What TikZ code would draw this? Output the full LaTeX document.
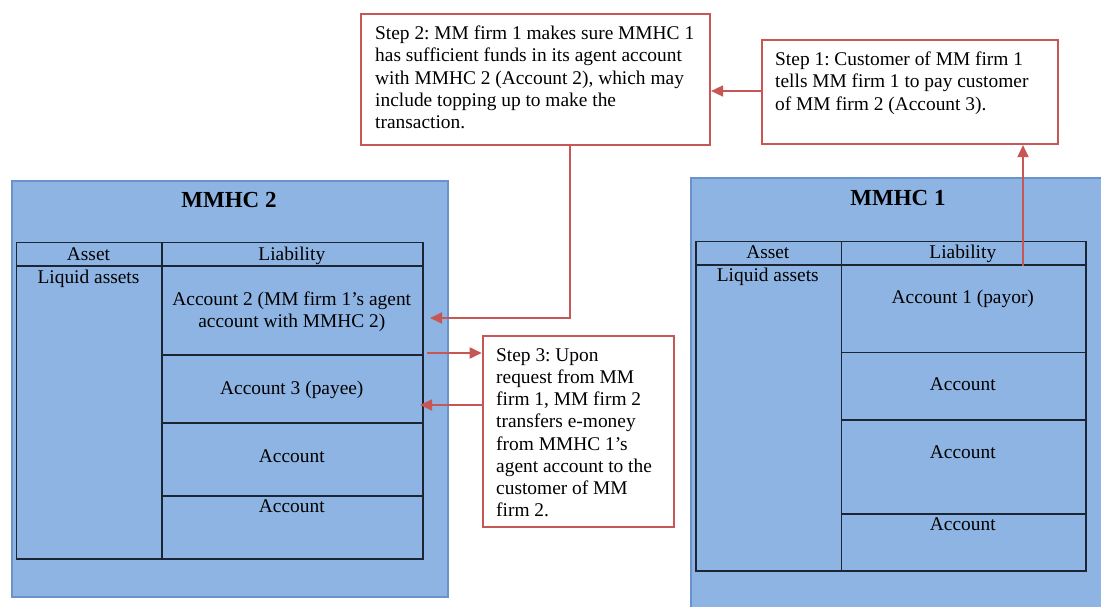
\documentclass[tikz,border=0pt]{standalone}
\usepackage{fontspec}
\setmainfont{Liberation Serif}
\usetikzlibrary{arrows.meta,calc}
\definecolor{hcfill}{HTML}{8EB4E3}
\definecolor{hcedge}{HTML}{6A93CC}
\definecolor{stepred}{HTML}{C65754}
\definecolor{gridline}{HTML}{1C2533}
\tikzset{
  holder/.style={draw=hcedge, fill=hcfill, line width=1.8pt, rectangle, inner sep=0pt, anchor=north west},
  cell/.style={draw=gridline, line width=1.5pt, rectangle, inner sep=0pt, anchor=north west},
  stepbox/.style={draw=stepred, fill=white, line width=1.8pt, rectangle, inner sep=0pt, anchor=north west},
  txt/.style={font=\fontsize{19.4}{22.2}\selectfont, inner sep=0pt},
  basetxt/.style={txt, anchor=base},
  title/.style={font=\fontsize{23}{26}\selectfont\bfseries, inner sep=0pt, anchor=base},
  flow/.style={draw=stepred, line width=1.8pt, -{Triangle[length=12pt,width=11pt]}},
}
\frenchspacing
\begin{document}
\begin{tikzpicture}[x=1pt,y=-1pt]
\clip (0,0) rectangle (1101,607);
\fill[white] (0,0) rectangle (1101,607);

% ---------- MMHC 2 ----------
\node[holder, minimum width=436pt, minimum height=416pt] (mmhc2) at (11,180) {};
\node[cell, minimum width=145.6pt, minimum height=23.6pt] (a2head) at (15.7,241.7) {};
\node[cell, minimum width=261pt, minimum height=23.6pt] (l2head) at (161.3,241.7) {};
\node[cell, minimum width=145.6pt, minimum height=293pt] (a2body) at (15.7,265.3) {};
\node[cell, minimum width=261pt, minimum height=88.7pt] (l2r1) at (161.3,265.3) {};
\node[cell, minimum width=261pt, minimum height=68.3pt] (l2r2) at (161.3,354) {};
\node[cell, minimum width=261pt, minimum height=72.7pt] (l2r3) at (161.3,422.3) {};
\node[cell, minimum width=261pt, minimum height=63.3pt] (l2r4) at (161.3,495) {};

\node[title] (t2) at (229,207.3) {MMHC 2};
\node[basetxt] (a2lab) at (88.5,260) {Asset};
\node[basetxt] (l2lab) at (291.8,260) {Liability};
\node[basetxt] (liq2) at (88.5,283.3) {Liquid assets};
\node[txt, anchor=north, align=center] (acc2) at (291.8,289.5) {\strut Account 2 (MM firm 1’s agent\\account with MMHC 2)};
\node[basetxt] (acc3) at (291.8,394) {Account 3 (payee)};
\node[basetxt] (acc2c) at (291.8,462.7) {Account};
\node[basetxt] (acc2d) at (291.8,512.7) {Account};

% ---------- MMHC 1 ----------
\node[holder, minimum width=416pt, minimum height=440pt] (mmhc1) at (690,177.5) {};
\node[cell, minimum width=145.7pt, minimum height=23.3pt] (a1head) at (695,240.7) {};
\node[cell, minimum width=244.3pt, minimum height=23.3pt] (l1head) at (840.7,240.7) {};
\node[cell, minimum width=145.7pt, minimum height=306pt] (a1body) at (695,264) {};
\node[cell, minimum width=244.3pt, minimum height=87.7pt] (l1r1) at (840.7,264) {};
\node[cell, minimum width=244.3pt, minimum height=67.3pt] (l1r2) at (840.7,351.7) {};
\node[cell, minimum width=244.3pt, minimum height=94.3pt] (l1r3) at (840.7,419) {};
\node[cell, minimum width=244.3pt, minimum height=56.7pt] (l1r4) at (840.7,513.3) {};

\node[title] (t1) at (898,206) {MMHC 1};
\node[basetxt] (a1lab) at (767.8,258.3) {Asset};
\node[basetxt] (l1lab) at (962.8,258.3) {Liability};
\node[basetxt] (liq1) at (767.8,281.7) {Liquid assets};
\node[basetxt] (acc1) at (962.8,303.3) {Account 1 (payor)};
\node[basetxt] (acc1b) at (962.8,390.7) {Account};
\node[basetxt] (acc1c) at (962.8,458.3) {Account};
\node[basetxt] (acc1d) at (962.8,530.7) {Account};

% ---------- step boxes ----------
\node[stepbox, minimum width=349.3pt, minimum height=130.7pt] (step2) at (360,13.3) {};
\node[txt, anchor=north west, align=left] (step2txt) at (375,23.9)
  {\strut Step 2: MM firm 1 makes sure MMHC 1\\has sufficient funds in its agent account\\with MMHC 2 (Account 2), which may\\include topping up to make the\\transaction.};

\node[stepbox, minimum width=296pt, minimum height=104pt] (step1) at (760.7,39.3) {};
\node[txt, anchor=north west, align=left] (step1txt) at (775,50)
  {\strut Step 1: Customer of MM firm 1\\tells MM firm 1 to pay customer\\of MM firm 2 (Account 3).};

\node[stepbox, minimum width=191.3pt, minimum height=191pt] (step3) at (481.7,335) {};
\node[txt, anchor=north west, align=left] (step3txt) at (496,345.5)
  {\strut Step 3: Upon\\request from MM\\firm 1, MM firm 2\\transfers e-money\\from MMHC 1’s\\agent account to the\\customer of MM\\firm 2.};

% ---------- connectors ----------
\coordinate (c1) at (1023,0);
\draw[flow] (l1head.south -| c1) -- (step1.south -| c1);

\coordinate (r1) at (0,91);
\draw[flow] (step1.west |- r1) -- (step2.east |- r1);

\coordinate (k2) at (570,318);
\coordinate (e2) at (430,318);
\draw[flow] (step2.south -| k2) -- (k2) -- (e2);

\coordinate (s3) at (426.7,353);
\draw[flow] (s3) -- (step3.west |- s3);

\coordinate (e3) at (420,405);
\draw[flow] (step3.west |- e3) -- (e3);
\end{tikzpicture}
\end{document}
